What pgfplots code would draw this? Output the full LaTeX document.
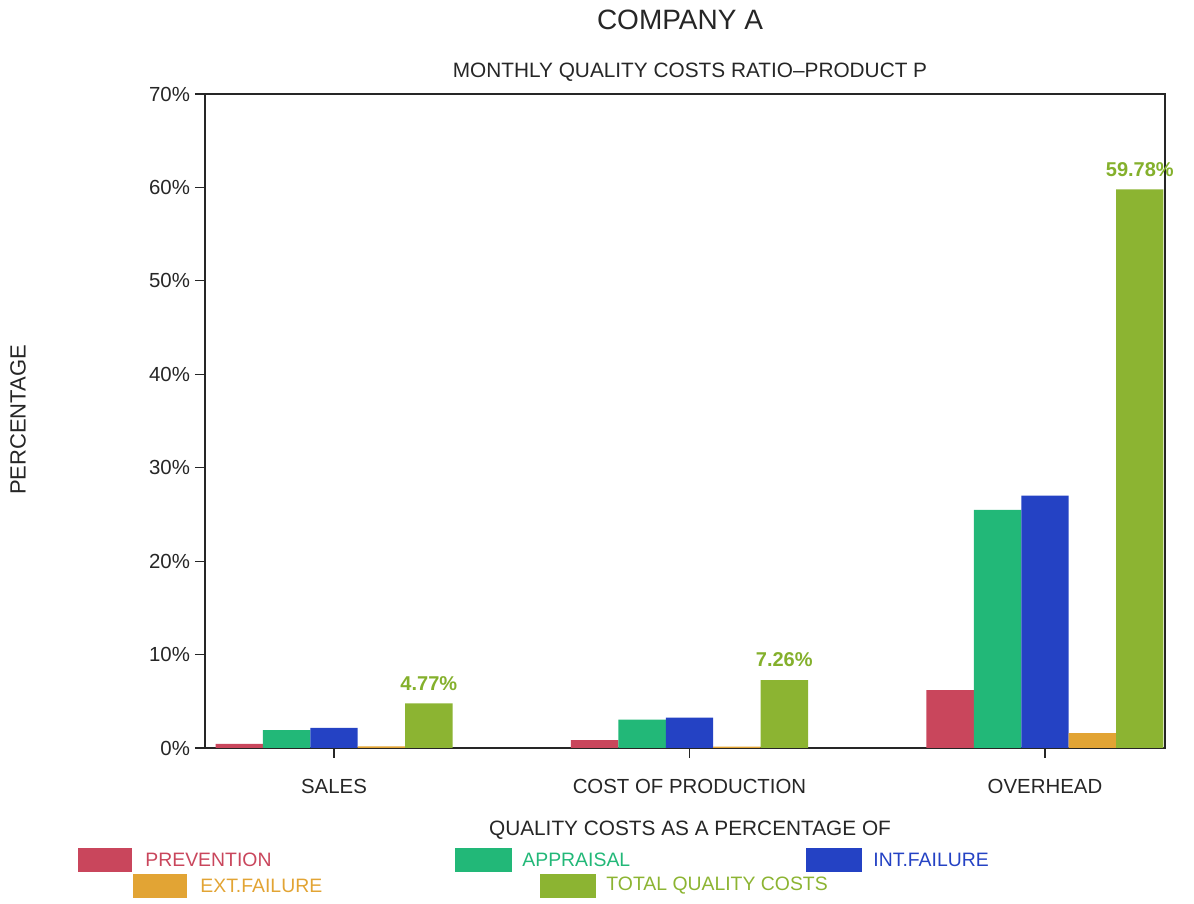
\documentclass[border=0pt]{standalone}
\usepackage{pgfplots}
\pgfplotsset{compat=1.18}
\usepackage{fontspec}
\setmainfont{Liberation Sans}

\definecolor{prevc}{RGB}{201,70,92}
\definecolor{apprc}{RGB}{34,184,120}
\definecolor{intc}{RGB}{36,66,196}
\definecolor{extc}{RGB}{226,164,52}
\definecolor{totc}{RGB}{140,180,50}
\definecolor{totlab}{RGB}{132,176,44}

% quality cost ratios (%) per base: 0 = sales, 1 = cost of production, 2 = overhead
\pgfplotstableread{
x  prev  appr  int   ext   tot
0  0.45  1.90  2.15  0.17  4.77
1  0.85  3.05  3.25  0.15  7.26
2  6.20  25.50 27.00 1.60  59.78
}\costs

\begin{document}
\begin{tikzpicture}[x=1pt,y=1pt]
\useasboundingbox (-102.5,-78) rectangle (494.5,374);
\begin{axis}[
  at={(0,0)}, anchor=south west,
  scale only axis, width=480pt, height=327pt,
  xmin=-0.3629, xmax=2.3376, ymin=0, ymax=70,
  axis line style={black!85, line width=0.6pt},
  xtick={0,1,2},
  xticklabels={SALES, COST OF PRODUCTION, OVERHEAD},
  ytick={0,10,...,70},
  yticklabel={\pgfmathprintnumber{\tick}\%},
  xtick pos=bottom, ytick pos=left,
  tick align=outside, major tick length=5pt,
  tick style={black!85, line width=0.6pt},
  /pgf/number format/assume math mode=true,
  tick label style={font=\fontsize{10.2}{11}\selectfont, text=black!85},
  xticklabel style={yshift=-7pt},
  yticklabel style={xshift=1pt},
  clip=false,
]
\addplot[ybar, bar width=23.7pt, bar shift=-47.4pt, fill=prevc, draw=none] table[x=x, y=prev] {\costs};
\addplot[ybar, bar width=23.7pt, bar shift=-23.7pt, fill=apprc, draw=none] table[x=x, y=appr] {\costs};
\addplot[ybar, bar width=23.7pt, bar shift=0pt, fill=intc, draw=none] table[x=x, y=int] {\costs};
\addplot[ybar, bar width=23.7pt, bar shift=23.7pt, fill=extc, draw=none] table[x=x, y=ext] {\costs};
\addplot[ybar, bar width=23.7pt, bar shift=47.4pt, fill=totc, draw=none,
  point meta=y,
  nodes near coords={\pgfmathprintnumber[fixed,precision=2,fixed zerofill]{\pgfplotspointmeta}\%},
  nodes near coords style={font=\bfseries\fontsize{10}{11}\selectfont, text=totlab, anchor=south, xshift=47.4pt, yshift=3pt},
] table[x=x, y=tot] {\costs};
\end{axis}

% titles and axis names
\node[font=\fontsize{14}{16}\selectfont, text=black!85] at (237.5,364) {COMPANY A};
\node[font=\fontsize{10.4}{12}\selectfont, text=black!85] at (242.5,338) {MONTHLY QUALITY COSTS RATIO--PRODUCT P};
\node[font=\fontsize{11}{12}\selectfont, text=black!85, rotate=90] at (-93.5,164) {PERCENTAGE};
\node[font=\fontsize{10.4}{12}\selectfont, text=black!85] at (242.5,-41) {QUALITY COSTS AS A PERCENTAGE OF};

% legend
\fill[prevc] (-63.5,-62) rectangle (-36.5,-50);
\node[anchor=west, inner sep=0, font=\fontsize{9.7}{11}\selectfont, text=prevc] at (-30,-56) {PREVENTION};
\fill[apprc] (125,-62) rectangle (153.5,-50);
\node[anchor=west, inner sep=0, font=\fontsize{9.7}{11}\selectfont, text=apprc] at (158.5,-56) {APPRAISAL};
\fill[intc] (300.5,-62) rectangle (328.5,-50);
\node[anchor=west, inner sep=0, font=\fontsize{9.7}{11}\selectfont, text=intc] at (334,-56) {INT.FAILURE};
\fill[extc] (-36,-75) rectangle (-9,-63);
\node[anchor=west, inner sep=0, font=\fontsize{9.7}{11}\selectfont, text=extc] at (-2.5,-69) {EXT.FAILURE};
\fill[totc] (167.5,-75) rectangle (195.5,-63);
\node[anchor=west, inner sep=0, font=\fontsize{9.7}{11}\selectfont, text=totc] at (200.5,-69) {TOTAL QUALITY COSTS};
\end{tikzpicture}
\end{document}
